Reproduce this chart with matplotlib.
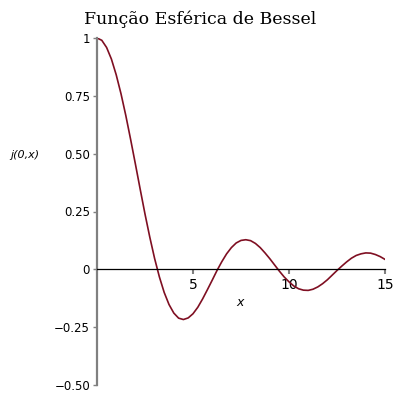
import matplotlib
matplotlib.use("Agg")
import matplotlib.pyplot as plt

# valores (passo 0.25)
x_vals = [i * 0.25 for i in range(61)]
j0_vals = [1.000, 0.990, 0.959, 0.909, 0.841, 0.759, 0.665, 0.562,
           0.455, 0.346, 0.239, 0.139, 0.047, -0.033, -0.100, -0.152,
           -0.189, -0.211, -0.217, -0.210, -0.192, -0.164, -0.128, -0.088,
           -0.047, -0.005, 0.033, 0.067, 0.094, 0.114, 0.125, 0.128,
           0.124, 0.112, 0.094, 0.071, 0.046, 0.019, -0.008, -0.033,
           -0.054, -0.072, -0.084, -0.090, -0.091, -0.086, -0.076, -0.062,
           -0.045, -0.025, -0.005, 0.014, 0.032, 0.048, 0.060, 0.067,
           0.071, 0.070, 0.064, 0.055, 0.043]
x_ticks = [5, 10, 15]
y_ticks = [-0.5, -0.25, 0, 0.25, 0.5, 0.75, 1]
y_labels = ["\u22120.50", "\u22120.25", "0", "0.25", "0.50", "0.75", "1"]

fig = plt.figure(figsize=(4, 4), dpi=100)
ax = fig.add_axes([0.2425, 0.0375, 0.72, 0.8675])
ax.plot(x_vals, j0_vals, color="#7f0f22", lw=1.2)
ax.set_xlim(0, 15)
ax.set_ylim(-0.5, 1)

for s in ("top", "right"):
    ax.spines[s].set_visible(False)
ax.spines["left"].set_color("#808080")
ax.spines["left"].set_linewidth(1.6)
ax.spines["bottom"].set_position(("data", 0))
ax.spines["bottom"].set_color("black")
ax.spines["bottom"].set_linewidth(0.9)

ax.set_xticks(x_ticks)
ax.set_xticklabels([str(t) for t in x_ticks], fontsize=10)
ax.set_yticks(y_ticks)
ax.set_yticklabels(y_labels, fontsize=8.5)
ax.tick_params(axis="x", direction="out", length=3.5, width=1.5, color="#808080", pad=3)
ax.tick_params(axis="y", direction="out", length=3, width=1, color="#808080", pad=2)

# título centrado na figura, não nos eixos
fig.text(0.5, 0.94, "Função Esférica de Bessel", family="DejaVu Serif",
         fontsize=12.5, ha="center", va="baseline")
fig.text(0.063, 0.612, "j(0,x)", style="italic", fontsize=8, ha="center", va="center")
fig.text(0.6, 0.245, "x", style="italic", fontsize=9, ha="center", va="center")

fig.savefig("out.png", dpi=100)
